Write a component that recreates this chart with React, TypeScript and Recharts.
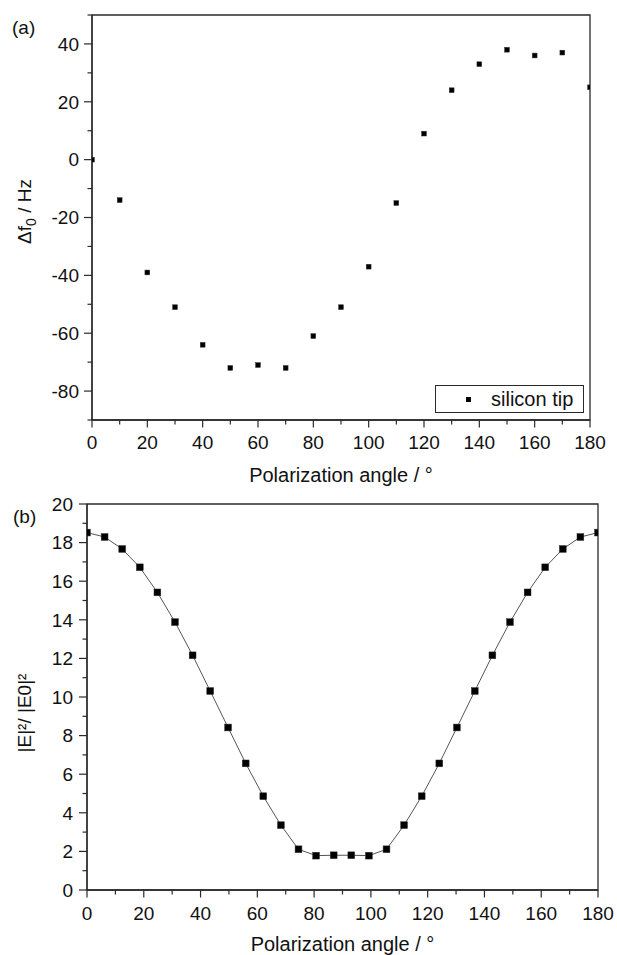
import React from "react";
import { ScatterChart, Scatter, XAxis, YAxis, ReferenceArea, Legend, Label } from "recharts";

const FONT = "'Liberation Sans', Arial, sans-serif";
const INK = "#2a2a2a";

// (a) measured frequency shift vs polarization angle
const anglesA = [0, 10, 20, 30, 40, 50, 60, 70, 80, 90, 100, 110, 120, 130, 140, 150, 160, 170, 180];
const freqShift = [0, -14, -39, -51, -64, -72, -71, -72, -61, -51, -37, -15, 9, 24, 33, 38, 36, 37, 25];

// (b) field enhancement |E|²/|E0|²
const anglesB = [
  0, 6.2, 12.4, 18.6, 24.8, 31.0, 37.2, 43.4, 49.7, 55.9, 62.1, 68.3, 74.5, 80.7, 86.9,
  93.1, 99.3, 105.5, 111.7, 117.9, 124.1, 130.3, 136.6, 142.8, 149.0, 155.2, 161.4, 167.6, 173.8, 180,
];
const fieldEnh = [
  18.52, 18.29, 17.67, 16.72, 15.42, 13.88, 12.16, 10.31, 8.42, 6.56, 4.86, 3.36, 2.11, 1.78, 1.8,
  1.8, 1.78, 2.11, 3.36, 4.86, 6.56, 8.42, 10.31, 12.16, 13.88, 15.42, 16.72, 17.67, 18.29, 18.52,
];

// tick labels
const xMajor = [0, 20, 40, 60, 80, 100, 120, 140, 160, 180];
const xMinor = [10, 30, 50, 70, 90, 110, 130, 150, 170];
const yMajorA = [-80, -60, -40, -20, 0, 20, 40];
const yMinorA = [-90, -70, -50, -30, -10, 10, 30, 50];
const yMajorB = [0, 2, 4, 6, 8, 10, 12, 14, 16, 18, 20];
const yMinorB = [1, 3, 5, 7, 9, 11, 13, 15, 17, 19];

const dataA = anglesA.map((a, i) => ({ angle: a, shift: freqShift[i] }));
const dataB = anglesB.map((a, i) => ({ angle: a, enh: fieldEnh[i] }));

const merge = (major: number[], minor: number[]) => [...major, ...minor].sort((a, b) => a - b);

// square marker of a fixed side
const squareMarker = (side: number) => (props: any) => (
  <rect x={props.cx - side / 2} y={props.cy - side / 2} width={side} height={side} fill="#000" stroke="#333" strokeWidth={0.5} />
);

const xTick = (labelDy: number) => (props: any) => {
  const { x, y, payload } = props;
  const major = xMajor.includes(payload.value);
  return (
    <g>
      <line x1={x} y1={y} x2={x} y2={y + (major ? 7.5 : 4.5)} stroke={INK} strokeWidth={1.2} />
      {major && (
        <text x={x} y={y + labelDy} dy="0.36em" textAnchor="middle" fontSize={19} fontFamily={FONT} fill="#111">
          {payload.value}
        </text>
      )}
    </g>
  );
};

const yTick = (majors: number[], labelDx: number) => (props: any) => {
  const { x, y, payload } = props;
  const major = majors.includes(payload.value);
  return (
    <g>
      <line x1={x} y1={y} x2={x - (major ? 8 : 4.5)} y2={y} stroke={INK} strokeWidth={1.2} />
      {major && (
        <text x={x - labelDx} y={y} dy="0.36em" textAnchor="end" fontSize={19} fontFamily={FONT} fill="#111">
          {payload.value}
        </text>
      )}
    </g>
  );
};

const xTitle = (offset: number) => (props: any) => {
  const vb = props.viewBox;
  return (
    <text x={vb.x + vb.width / 2} y={vb.y + offset} dy="0.36em" textAnchor="middle" fontSize={20} fontFamily={FONT} fill="#111">
      Polarization angle / °
    </text>
  );
};

const ShiftTitle = (props: any) => {
  const vb = props.viewBox;
  const cx = 24;
  const cy = vb.y + vb.height / 2 - 6;
  return (
    <text transform={`rotate(-90 ${cx} ${cy})`} x={cx} y={cy} dy="0.36em" textAnchor="middle" fontSize={19} fontFamily={FONT} fill="#111">
      Δf<tspan dy={5} fontSize={14}>0</tspan>
      <tspan dy={-5}> / Hz</tspan>
    </text>
  );
};

const EnhTitle = (props: any) => {
  const vb = props.viewBox;
  const cx = 24;
  const cy = vb.y + vb.height / 2 + 16;
  return (
    <text transform={`rotate(-90 ${cx} ${cy})`} x={cx} y={cy} dy="0.36em" textAnchor="middle" fontSize={19} fontFamily={FONT} fill="#111">
      |E|²/ |E0|²
    </text>
  );
};

const LegendBox = (props: any) => {
  const item = props.payload && props.payload[0];
  return (
    <div
      style={{
        boxSizing: "border-box",
        width: 149,
        height: 28,
        border: `1px solid ${INK}`,
        background: "#fff",
        position: "relative",
        fontFamily: FONT,
        fontSize: 20,
        color: "#111",
      }}
    >
      <div style={{ position: "absolute", left: 30, top: 11, width: 5, height: 5, background: "#000" }} />
      <div style={{ position: "absolute", left: 55, top: 1, lineHeight: "24px", whiteSpace: "nowrap" }}>
        {item ? item.value : ""}
      </div>
    </div>
  );
};

const tagStyle: React.CSSProperties = { position: "absolute", fontFamily: FONT, fontSize: 19, color: "#111" };

export default function App() {
  return (
    <div style={{ position: "absolute", left: 0, top: 0, width: 617, height: 955, background: "#fff" }}>
      <div style={{ position: "absolute", left: 0, top: 480 }}>
        <ScatterChart width={617} height={475} margin={{ top: 24, right: 19, bottom: 0, left: 0 }}>
          <XAxis
            type="number"
            dataKey="angle"
            domain={[0, 180]}
            ticks={merge(xMajor, xMinor)}
            interval={0}
            allowDataOverflow
            height={65}
            tickSize={0}
            tickMargin={0}
            tickLine={false}
            axisLine={{ stroke: INK, strokeWidth: 1.3 }}
            tick={xTick(23)}
          >
            <Label content={xTitle(54)} />
          </XAxis>
          <YAxis
            type="number"
            dataKey="enh"
            domain={[0, 20]}
            ticks={merge(yMajorB, yMinorB)}
            interval={0}
            width={87}
            tickSize={0}
            tickMargin={0}
            tickLine={false}
            axisLine={{ stroke: INK, strokeWidth: 1.3 }}
            tick={yTick(yMajorB, 14)}
          >
            <Label content={EnhTitle} />
          </YAxis>
          <ReferenceArea x1={0} x2={180} y1={0} y2={20} fill="none" stroke={INK} strokeWidth={1.3} />
          <Scatter
            name="simulation"
            data={dataB}
            shape={squareMarker(6.8)}
            fill="#000"
            line={{ stroke: "#555", strokeWidth: 1 }}
            lineType="joint"
            isAnimationActive={false}
          />
        </ScatterChart>
      </div>
      <div style={{ position: "absolute", left: 0, top: 0 }}>
        <ScatterChart width={617} height={495} margin={{ top: 15, right: 27, bottom: 0, left: 0 }}>
          <XAxis
            type="number"
            dataKey="angle"
            domain={[0, 180]}
            ticks={merge(xMajor, xMinor)}
            interval={0}
            allowDataOverflow
            height={75}
            tickSize={0}
            tickMargin={0}
            tickLine={false}
            axisLine={{ stroke: INK, strokeWidth: 1.3 }}
            tick={xTick(22)}
          >
            <Label content={xTitle(55)} />
          </XAxis>
          <YAxis
            type="number"
            dataKey="shift"
            domain={[-90, 50]}
            ticks={merge(yMajorA, yMinorA)}
            interval={0}
            width={92}
            tickSize={0}
            tickMargin={0}
            tickLine={false}
            axisLine={{ stroke: INK, strokeWidth: 1.3 }}
            tick={yTick(yMajorA, 13)}
          >
            <Label content={ShiftTitle} />
          </YAxis>
          <ReferenceArea x1={0} x2={180} y1={-90} y2={50} fill="none" stroke={INK} strokeWidth={1.3} />
          <Scatter name="silicon tip" data={dataA} shape={squareMarker(4.8)} fill="#000" isAnimationActive={false} />
          <Legend
            layout="vertical"
            align="center"
            verticalAlign="middle"
            wrapperStyle={{ left: 435, top: 385, width: 149, height: 28 }}
            content={LegendBox}
          />
        </ScatterChart>
      </div>
      <div style={{ ...tagStyle, left: 12, top: 17 }}>(a)</div>
      <div style={{ ...tagStyle, left: 13, top: 506 }}>(b)</div>
    </div>
  );
}
